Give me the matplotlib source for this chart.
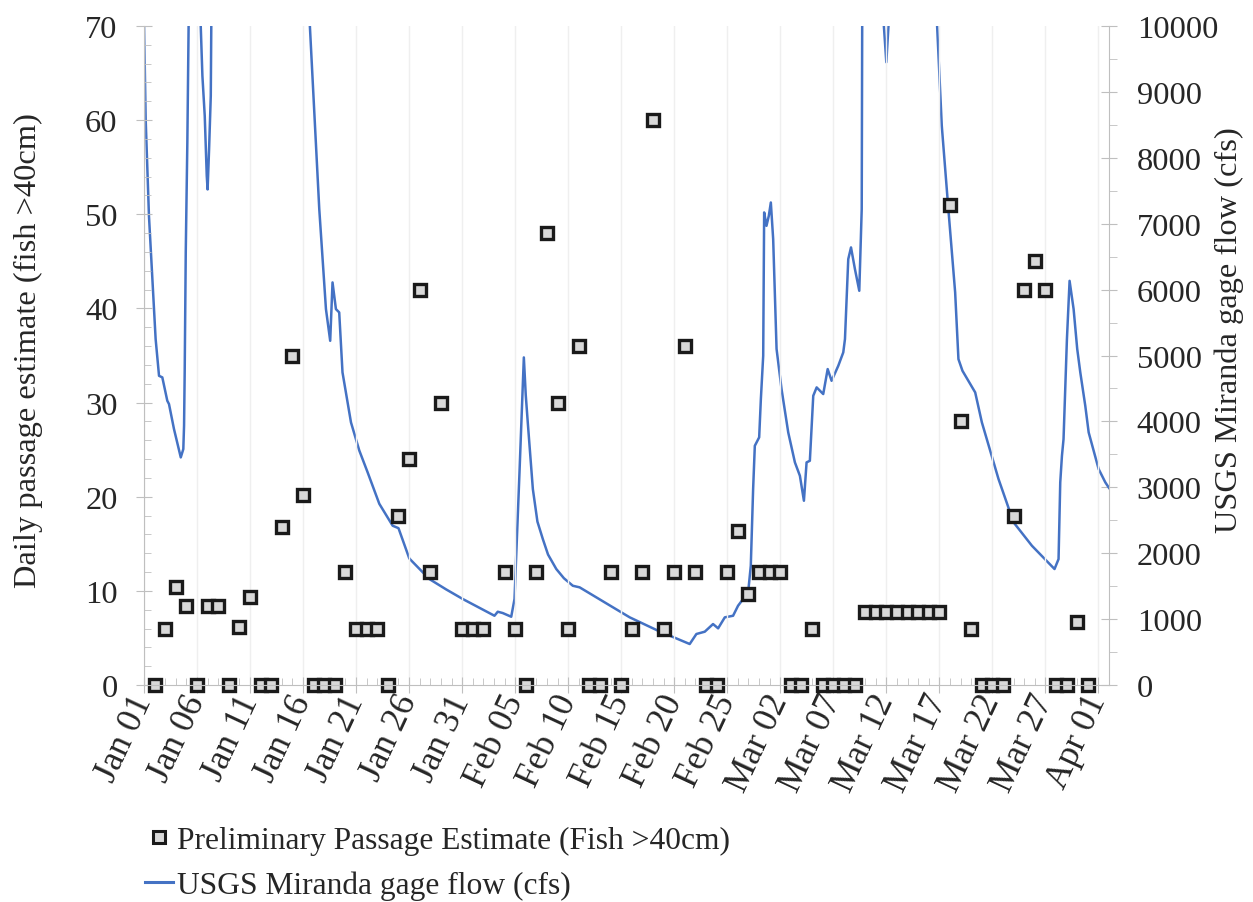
import numpy as np
import pandas as pd
import matplotlib
matplotlib.use('Agg')
import matplotlib.pyplot as plt
import matplotlib.dates as mdates
from matplotlib.ticker import MultipleLocator
from matplotlib.lines import Line2D

plt.rcParams['font.family'] = ['Liberation Serif', 'DejaVu Serif']

nan = np.nan

# daily passage estimates (fish >40cm), one value per day from Jan 02, nan = no estimate
passage_start = '2019-01-02'
passage = [0, 6, 10.4, 8.4, 0, 8.4, 8.4, 0, 6.2, 9.3,        # Jan 02-11
           0, 0, 16.8, 35, 20.2, 0, 0, 0, 12, 6,             # Jan 12-21
           6, 6, 0, 18, 24, 42, 12, 30, nan, 6,              # Jan 22-31
           6, 6, nan, 12, 6, 0, 12, 48, 30, 6,               # Feb 01-10
           36, 0, 0, 12, 0, 6, 12, 60, 6, 12,                # Feb 11-20
           36, 12, 0, 0, 12, 16.4, 9.7, 12, 12, 12,          # Feb 21-Mar 02
           0, 0, 6, 0, 0, 0, 0, 7.8, 7.8, 7.8,               # Mar 03-12
           7.8, 7.8, 7.8, 7.8, 7.8, 51, 28, 6, 0, 0,         # Mar 13-22
           0, 18, 42, 45, 42, 0, 0, 6.7, 0]                  # Mar 23-31

# USGS Miranda gage flow (days since Jan 01, cfs)
flow_day = [0, 0.16, 0.47, 0.94, 1.10, 1.42, 1.73, 2.20, 2.36, 2.83,
            3.47, 3.71, 3.78, 3.84, 3.94, 4.09, 4.25, 5.0, 5.29, 5.51,
            5.73, 5.92, 6.0, 6.14, 6.30, 6.37, 10.5, 15.58, 16.05, 16.53,
            17.16, 17.56, 17.78, 18.10, 18.41, 18.72, 19.52, 20.3, 21.09, 22.19,
            23.45, 24.0, 25.02, 26.91, 28.5, 30.06, 33.05, 33.36, 33.83, 34.63,
            34.94, 35.41, 35.82, 36.0, 36.19, 36.67, 37.1, 37.61, 38.1, 38.88,
            39.6, 40.44, 41.08, 42.65, 44.22, 45.80, 48.47,
            51.46, 52.09, 52.88, 53.66, 54.14, 54.77, 55.55, 56.02, 56.97, 57.22,
            57.44, 57.60, 58.01, 58.17, 58.39, 58.48, 58.70, 58.92, 59.11, 59.33,
            59.65, 60.12, 60.75, 61.38, 61.85, 62.23, 62.48, 62.79, 63.11, 63.43,
            64.05, 64.47, 64.84, 65.47, 65.94, 66.10, 66.41, 66.67, 67.04, 67.45,
            67.68, 67.73, 68.6, 69.6, 70.0, 70.35, 72.5, 74.76, 75.23, 75.85,
            76.49, 76.8, 77.18, 78.38, 79.01, 80.58, 82.0, 83.73, 85.86, 86.24,
            86.40, 86.56, 86.71, 86.87, 87.03, 87.28, 87.66, 88.0, 88.29, 88.76,
            89.08, 90.02, 90.65, 91.0]
flow_cfs = [10100, 8586, 7120, 5704, 5249, 4692, 4668, 4313, 4263, 3884,
            3454, 3580, 3934, 4750, 6570, 8237, 10600, 14000, 10300, 9243,
            8637, 7726, 7520, 8131, 8940, 10500, 22000, 10200, 8738, 7221,
            5704, 5223, 6109, 5704, 5654, 4744, 3985, 3560, 3227, 2750,
            2417, 2380, 1920, 1608, 1450, 1305, 1051, 1112, 1092, 1036,
            1305, 3227, 4971, 4400, 3985, 2973, 2480, 2215, 1980, 1760,
            1620, 1506, 1482, 1330, 1179, 1027, 824,
            622, 774, 809, 925, 860, 1027, 1051, 1203, 1406, 1810,
            2973, 3630, 3758, 4339, 4995, 7171, 6968, 7120, 7322, 6767,
            5100, 4490, 3833, 3378, 3175, 2796, 3378, 3403, 4389, 4516,
            4415, 4794, 4616, 4844, 5047, 5249, 6462, 6640, 6311, 5982,
            7221, 10400, 18000, 10400, 9450, 10400, 16000, 10100, 8485, 7221,
            5957, 4945, 4768, 4440, 3985, 3125, 2468, 2113, 1760, 1911,
            3075, 3478, 3731, 4490, 5249, 6133, 5704, 5100, 4744, 4237,
            3833, 3277, 3075, 2990]

start = pd.Timestamp('2019-01-01')
end = pd.Timestamp('2019-04-02')
passage_dates = pd.date_range(passage_start, periods=len(passage), freq='D')
flow_dates = start + pd.to_timedelta(flow_day, unit='D')

fs = 23.4
grey = '#bfbfbf'
blue = '#4472C4'
txt = '#262626'

fig = plt.figure(figsize=(12.53, 9.03), dpi=100)
ax = fig.add_axes([0.1149, 0.2403, 0.7702, 0.7298])
ax2 = ax.twinx()
ax.set_zorder(ax2.get_zorder() + 1)
ax.patch.set_visible(False)

ax2.plot(flow_dates, flow_cfs, color=blue, lw=1.8)
ax.plot(passage_dates, passage, ls='none', marker='s', ms=9.3,
        mfc='#d9d9d9', mec='#1a1a1a', mew=2.4, clip_on=False)

ax.set_xlim(start, end)
ax.set_ylim(0, 70)
ax2.set_ylim(0, 10000)

ax.set_xticks(pd.date_range(start, '2019-04-01', freq='5D'))
ax.xaxis.set_major_formatter(mdates.DateFormatter('%b %d'))
ax.xaxis.set_minor_locator(mdates.DayLocator())
ax.yaxis.set_major_locator(MultipleLocator(10))
ax.yaxis.set_minor_locator(MultipleLocator(2))
ax2.yaxis.set_major_locator(MultipleLocator(1000))
ax2.yaxis.set_minor_locator(MultipleLocator(500))

ax.grid(axis='x', which='major', color='#efefef', lw=1)

for a in (ax, ax2):
    a.spines['top'].set_visible(False)
ax.spines['right'].set_visible(False)
ax2.spines['left'].set_visible(False)
ax2.spines['bottom'].set_visible(False)
ax.spines['left'].set_color(grey)
ax.spines['bottom'].set_color(grey)
ax2.spines['right'].set_color(grey)

ax.tick_params(axis='x', which='major', direction='inout', length=12, color=grey,
               labelsize=25.5, pad=2)
ax.tick_params(axis='x', which='minor', direction='in', length=5, color=grey)
ax.tick_params(axis='y', which='major', direction='inout', length=12, color=grey,
               labelsize=fs, pad=13, labelcolor=txt)
ax.tick_params(axis='y', which='minor', direction='in', length=5, color=grey)
ax2.tick_params(axis='y', which='major', direction='inout', length=12, color=grey,
                labelsize=fs, pad=14, labelcolor=txt)
ax2.tick_params(axis='y', which='minor', direction='out', length=6, color=grey)

for lab in ax.get_xticklabels():
    lab.set_rotation(65)
    lab.set_ha('right')
    lab.set_va('center')
    lab.set_rotation_mode('anchor')
    lab.set_color(txt)

fig.text(28 / 1253, 1 - 351 / 903, 'Daily passage estimate (fish >40cm)',
         rotation=90, ha='center', va='center', fontsize=fs, color=txt)
fig.text(1229 / 1253, 1 - 330 / 903, 'USGS Miranda gage flow (cfs)',
         rotation=90, ha='center', va='center', fontsize=fs, color=txt)

handles = [Line2D([], [], ls='none', marker='s', ms=8, mfc='#d9d9d9',
                  mec='#1a1a1a', mew=2.2),
           Line2D([], [], color=blue, lw=2.2)]
labels = ['Preliminary Passage Estimate (Fish >40cm)', 'USGS Miranda gage flow (cfs)']
fig.legend(handles, labels, loc='upper left', bbox_to_anchor=(145 / 1253, 1 - 827 / 903),
           frameon=False, fontsize=22.7, handlelength=0.9, handletextpad=0.1,
           labelspacing=0.5, borderpad=0, borderaxespad=0, labelcolor=txt)

fig.savefig('out.png', dpi=100)
